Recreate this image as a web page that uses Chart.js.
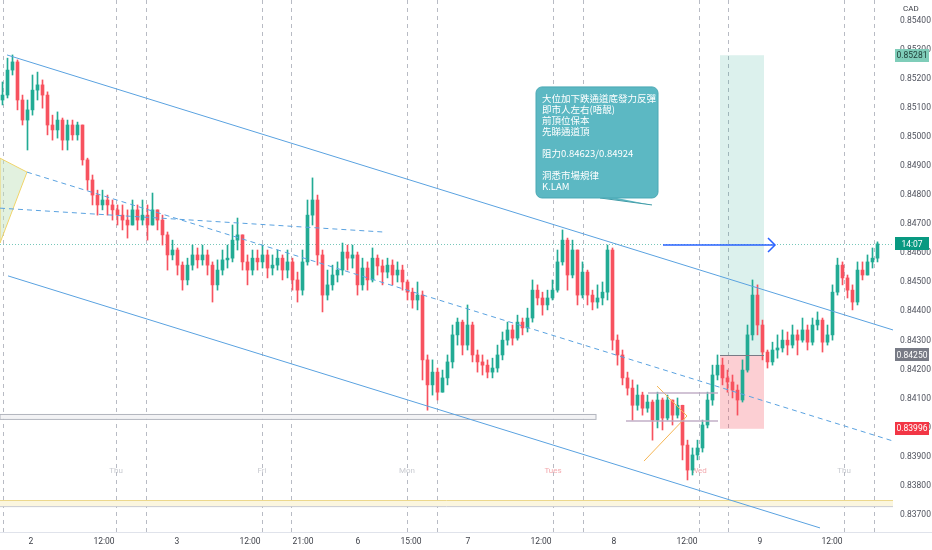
<!DOCTYPE html>
<html lang="zh-Hant">
<head>
  <meta charset="UTF-8">
  <title>CAD 30分鐘走勢</title>
  <script src="https://cdn.jsdelivr.net/npm/chart.js"></script>
  <style>
    html, body { margin: 0; padding: 0; background: #fff; }
    #wrap { width: 932px; height: 550px; position: relative; }
  </style>
</head>
<body>
  <div id="wrap"><canvas id="chart"></canvas></div>

  <script>
    // K線 (開 = 上一根收市)
    const firstOpen = 0.85127;
    const closes = [
      0.85144, 0.85230, 0.85258, 0.85127, 0.85058, 0.85093, 0.85161, 0.85179, 0.85144, 0.85041,
      0.85024, 0.85058, 0.84989, 0.85041, 0.85007, 0.85041, 0.84921, 0.84852, 0.84800, 0.84766,
      0.84783, 0.84766, 0.84749, 0.84731, 0.84714, 0.84697, 0.84749, 0.84714, 0.84731, 0.84697,
      0.84749, 0.84714, 0.84663, 0.84594, 0.84611, 0.84559, 0.84508, 0.84559, 0.84594, 0.84577,
      0.84594, 0.84559, 0.84491, 0.84542, 0.84577, 0.84583, 0.84645, 0.84663, 0.84570, 0.84542,
      0.84583, 0.84570, 0.84594, 0.84549, 0.84559, 0.84583, 0.84542, 0.84570, 0.84508, 0.84473,
      0.84570, 0.84731, 0.84783, 0.84594, 0.84456, 0.84491, 0.84525, 0.84542, 0.84604, 0.84583,
      0.84594, 0.84491, 0.84549, 0.84508, 0.84583, 0.84556, 0.84535, 0.84559, 0.84525, 0.84542,
      0.84501, 0.84466, 0.84439, 0.84456, 0.84233, 0.84147, 0.84191, 0.84122, 0.84171, 0.84226,
      0.84319, 0.84363, 0.84284, 0.84353, 0.84250, 0.84226, 0.84215, 0.84191, 0.84205, 0.84250,
      0.84301, 0.84336, 0.84308, 0.84363, 0.84343, 0.84377, 0.84473, 0.84446, 0.84422, 0.84446,
      0.84473, 0.84570, 0.84645, 0.84525, 0.84611, 0.84456, 0.84535, 0.84456, 0.84432, 0.84446,
      0.84466, 0.84611, 0.84301, 0.84250, 0.84171, 0.84136, 0.84077, 0.84112, 0.84067, 0.84088,
      0.84026, 0.84095, 0.84033, 0.84095, 0.84043, 0.84077, 0.83940, 0.83854, 0.83906, 0.83930,
      0.84009, 0.84095, 0.84181, 0.84215, 0.84171, 0.84157, 0.84129, 0.84095, 0.84198, 0.84319,
      0.84456, 0.84353, 0.84260, 0.84226, 0.84267, 0.84274, 0.84301, 0.84284, 0.84319, 0.84301,
      0.84336, 0.84294, 0.84353, 0.84370, 0.84294, 0.84319, 0.84466, 0.84559, 0.84515, 0.84473,
      0.84432, 0.84542, 0.84525, 0.84570, 0.84583, 0.84632
    ];
    const highs = [
      0.85189, 0.85271, 0.85282, 0.85265, 0.85144, 0.85127, 0.85213, 0.85223, 0.85196, 0.85155,
      0.85075, 0.85086, 0.85065, 0.85058, 0.85058, 0.85051, 0.85041, 0.84927, 0.84869, 0.84817,
      0.84817, 0.84800, 0.84783, 0.84766, 0.84766, 0.84749, 0.84783, 0.84766, 0.84783, 0.84766,
      0.84807, 0.84749, 0.84731, 0.84673, 0.84645, 0.84618, 0.84570, 0.84583, 0.84628, 0.84618,
      0.84628, 0.84611, 0.84570, 0.84577, 0.84611, 0.84628, 0.84697, 0.84721, 0.84663, 0.84594,
      0.84611, 0.84611, 0.84628, 0.84611, 0.84594, 0.84611, 0.84594, 0.84611, 0.84583, 0.84535,
      0.84611, 0.84783, 0.84859, 0.84800, 0.84611, 0.84542, 0.84559, 0.84570, 0.84635, 0.84628,
      0.84628, 0.84604, 0.84583, 0.84570, 0.84618, 0.84594, 0.84577, 0.84583, 0.84577, 0.84570,
      0.84559, 0.84508, 0.84480, 0.84501, 0.84470, 0.84250, 0.84233, 0.84205, 0.84198, 0.84250,
      0.84353, 0.84377, 0.84370, 0.84422, 0.84363, 0.84267, 0.84250, 0.84233, 0.84239, 0.84284,
      0.84329, 0.84363, 0.84353, 0.84387, 0.84377, 0.84411, 0.84508, 0.84491, 0.84466, 0.84473,
      0.84508, 0.84611, 0.84680, 0.84652, 0.84645, 0.84611, 0.84570, 0.84542, 0.84473, 0.84491,
      0.84501, 0.84628, 0.84618, 0.84319, 0.84267, 0.84191, 0.84164, 0.84147, 0.84122, 0.84112,
      0.84095, 0.84122, 0.84102, 0.84112, 0.84095, 0.84102, 0.84077, 0.83957, 0.83930, 0.83957,
      0.84026, 0.84122, 0.84215, 0.84250, 0.84239, 0.84198, 0.84181, 0.84147, 0.84233, 0.84353,
      0.84508, 0.84491, 0.84370, 0.84267, 0.84294, 0.84319, 0.84336, 0.84329, 0.84353, 0.84336,
      0.84377, 0.84353, 0.84377, 0.84398, 0.84377, 0.84353, 0.84491, 0.84583, 0.84570, 0.84525,
      0.84491, 0.84570, 0.84570, 0.84594, 0.84618, 0.84639
    ];
    const lows = [
      0.85110, 0.85134, 0.85213, 0.85093, 0.85041, 0.84955, 0.85075, 0.85127, 0.85099, 0.85007,
      0.84989, 0.84996, 0.84955, 0.84955, 0.84989, 0.84989, 0.84903, 0.84817, 0.84766, 0.84731,
      0.84749, 0.84731, 0.84714, 0.84697, 0.84680, 0.84652, 0.84697, 0.84680, 0.84697, 0.84645,
      0.84697, 0.84680, 0.84628, 0.84542, 0.84577, 0.84525, 0.84473, 0.84491, 0.84542, 0.84549,
      0.84559, 0.84525, 0.84432, 0.84473, 0.84525, 0.84549, 0.84570, 0.84611, 0.84542, 0.84491,
      0.84525, 0.84542, 0.84549, 0.84515, 0.84525, 0.84542, 0.84508, 0.84515, 0.84473, 0.84432,
      0.84456, 0.84559, 0.84697, 0.84559, 0.84398, 0.84439, 0.84473, 0.84501, 0.84525, 0.84542,
      0.84549, 0.84456, 0.84473, 0.84473, 0.84501, 0.84525, 0.84491, 0.84515, 0.84491, 0.84501,
      0.84473, 0.84439, 0.84411, 0.84405, 0.84164, 0.84060, 0.84112, 0.84095, 0.84122, 0.84147,
      0.84205, 0.84284, 0.84250, 0.84267, 0.84226, 0.84191, 0.84181, 0.84171, 0.84171, 0.84191,
      0.84233, 0.84284, 0.84284, 0.84301, 0.84319, 0.84329, 0.84363, 0.84422, 0.84387, 0.84405,
      0.84439, 0.84466, 0.84559, 0.84473, 0.84515, 0.84422, 0.84446, 0.84422, 0.84405, 0.84411,
      0.84422, 0.84439, 0.84267, 0.84215, 0.84147, 0.84112, 0.84026, 0.84060, 0.84043, 0.84053,
      0.83957, 0.83999, 0.83992, 0.84026, 0.84009, 0.84033, 0.83889, 0.83820, 0.83837, 0.83889,
      0.83916, 0.83999, 0.84077, 0.84164, 0.84147, 0.84122, 0.84102, 0.84043, 0.84088, 0.84191,
      0.84301, 0.84319, 0.84233, 0.84205, 0.84215, 0.84239, 0.84260, 0.84250, 0.84274, 0.84250,
      0.84294, 0.84267, 0.84284, 0.84336, 0.84260, 0.84284, 0.84301, 0.84456, 0.84491, 0.84446,
      0.84405, 0.84422, 0.84508, 0.84525, 0.84549, 0.84570
    ];

    // 時間軸
    const tickPos = [5.7, 20.3, 34.9, 49.5, 60.1, 71.1, 81.7, 93.1, 107.7, 122.3, 136.9, 151.5, 165.9];
    const tickLabels = ['2', '12:00', '3', '12:00', '21:00', '6', '15:00', '7', '12:00', '8', '12:00', '9', '12:00'];
    const sessionLines = [0.1, 22.7, 28.7, 51.9, 57.7, 80.9, 86.9, 110.1, 116.1, 139.3, 145.1, 168.3, 174.3];
    const dayPos = [22.7, 51.9, 80.9, 110.1, 139.3, 168.3];
    const dayNames = ['Thu', 'Fri', 'Mon', 'Tues', 'Wed', 'Thu'];

    // 畫圖工具 (K線序號, 價位)
    const channelTop = [[0.9, 0.85282], [178.1, 0.84336]];
    const channelBottom = [[1.1, 0.84522], [163.5, 0.83655]];
    const channelMid = [[4.9, 0.84879], [178.1, 0.83954]];
    const trendDash = [[-0.5, 0.84755], [76.1, 0.84673]];
    const leftWedge = [[-0.5, 0.84927], [4.9, 0.84879], [-0.5, 0.84635]];
    const triangle = [[130.9, 0.84143], [136.9, 0.84040], [128.3, 0.83885]];
    const triLines = [[129.1, 143.1, 0.84119], [124.7, 143.1, 0.84023]];
    const supportBox = [-0.5, 118.7, 0.84047, 0.84030];
    const bottomBand = [-0.5, 178.1, 0.83751, 0.83730];
    const position = { from: 143.5, to: 152.3, target: 0.85281, entry: 0.84250, stop: 0.83996 };
    const arrow = [[132.1, 0.84628], [154.5, 0.84628]];
    const lastPrice = 0.84632;
    const note = { from: 106.7, to: 131.1, top: 0.85172, bottom: 0.84790, tip: [129.9, 0.84766] };
    const noteLines = ['大位加下跌通道底發力反彈', '即市人左右(唔靚)', '前頂位保本', '先睇通道頂', '',
                       '阻力0.84623/0.84924', '', '洞悉市場規律', 'K.LAM'];

    const UP = '#22ab94';
    const DOWN = '#f7525f';

    const opens = closes.map((c, i) => i === 0 ? firstOpen : closes[i - 1]);
    const colors = closes.map((c, i) => c >= opens[i] ? UP : DOWN);
    const bodies = closes.map((c, i) => ({ x: i, y: [opens[i], c] }));
    const wicks = closes.map((c, i) => ({ x: i, y: [lows[i], highs[i]] }));

    const font = 'Roboto, "Noto Sans CJK TC", sans-serif';
    Chart.defaults.font.family = font;

    function line(ctx, x, y, pts, color, dash, width) {
      ctx.beginPath();
      ctx.strokeStyle = color;
      ctx.lineWidth = width || 1;
      ctx.setLineDash(dash || []);
      ctx.moveTo(x.getPixelForValue(pts[0][0]), y.getPixelForValue(pts[0][1]));
      for (let k = 1; k < pts.length; k++) {
        ctx.lineTo(x.getPixelForValue(pts[k][0]), y.getPixelForValue(pts[k][1]));
      }
      ctx.stroke();
      ctx.setLineDash([]);
    }

    function rectOf(x, y, x0, x1, p0, p1) {
      const l = x.getPixelForValue(x0), r = x.getPixelForValue(x1);
      const t = y.getPixelForValue(p0), b = y.getPixelForValue(p1);
      return [l, t, r - l, b - t];
    }

    const drawings = {
      id: 'drawings',
      beforeDatasetsDraw(chart) {
        const { ctx, chartArea: a, scales: { x, y } } = chart;
        ctx.save();

        // 時段分隔線
        ctx.strokeStyle = '#b8bbc4';
        ctx.lineWidth = 1;
        ctx.setLineDash([4, 4]);
        sessionLines.forEach(v => {
          const X = Math.round(x.getPixelForValue(v)) + 0.5;
          ctx.beginPath(); ctx.moveTo(X, a.top); ctx.lineTo(X, a.bottom); ctx.stroke();
        });
        ctx.setLineDash([]);

        // 星期
        ctx.font = '8px ' + font;
        ctx.textAlign = 'center';
        ctx.textBaseline = 'middle';
        dayNames.forEach((d, k) => {
          ctx.fillStyle = (d === 'Tues' || d === 'Wed') ? '#f3a9ae' : '#c9cbd1';
          ctx.fillText(d, x.getPixelForValue(dayPos[k]), 471);
        });

        // 支持位框 / 底部帶
        let r = rectOf(x, y, supportBox[0], supportBox[1], supportBox[2], supportBox[3]);
        ctx.fillStyle = '#f3f3f5'; ctx.fillRect(...r);
        ctx.strokeStyle = '#b2b5be'; ctx.strokeRect(r[0], r[1] + 0.5, r[2], r[3]);
        r = rectOf(x, y, bottomBand[0], bottomBand[1], bottomBand[2], bottomBand[3]);
        ctx.fillStyle = '#fbf6df'; ctx.fillRect(...r);
        ctx.strokeStyle = '#ecd88c';
        ctx.beginPath(); ctx.moveTo(r[0], r[1] + 0.5); ctx.lineTo(r[0] + r[2], r[1] + 0.5); ctx.stroke();
        ctx.strokeStyle = '#c9cbd1';
        ctx.beginPath(); ctx.moveTo(r[0], r[1] + r[3] + 0.5); ctx.lineTo(r[0] + r[2], r[1] + r[3] + 0.5); ctx.stroke();

        // 左邊楔形
        ctx.beginPath();
        leftWedge.forEach((p, k) => {
          const X = x.getPixelForValue(p[0]), Y = y.getPixelForValue(p[1]);
          k ? ctx.lineTo(X, Y) : ctx.moveTo(X, Y);
        });
        ctx.closePath();
        ctx.fillStyle = 'rgba(190, 225, 185, 0.45)'; ctx.fill();
        ctx.strokeStyle = '#f0d46a'; ctx.stroke();

        // 持倉工具
        r = rectOf(x, y, position.from, position.to, position.target, position.entry);
        ctx.fillStyle = 'rgba(8, 153, 129, 0.14)'; ctx.fillRect(...r);
        r = rectOf(x, y, position.from, position.to, position.entry, position.stop);
        ctx.fillStyle = 'rgba(242, 54, 69, 0.24)'; ctx.fillRect(...r);

        // 現價虛線
        const ly = Math.round(y.getPixelForValue(lastPrice)) + 0.5;
        ctx.strokeStyle = 'rgba(8, 153, 129, 0.55)';
        ctx.setLineDash([1, 2]);
        ctx.beginPath(); ctx.moveTo(a.left, ly); ctx.lineTo(a.right, ly); ctx.stroke();
        ctx.setLineDash([]);
        ctx.restore();
      },
      afterDatasetsDraw(chart) {
        const { ctx, scales: { x, y } } = chart;
        ctx.save();
        ctx.beginPath();
        ctx.rect(chart.chartArea.left, chart.chartArea.top, chart.chartArea.width, chart.chartArea.height);
        ctx.clip();

        // 入場線
        const ey = Math.round(y.getPixelForValue(position.entry)) + 0.5;
        ctx.strokeStyle = '#787b86'; ctx.lineWidth = 1;
        ctx.beginPath(); ctx.moveTo(x.getPixelForValue(position.from), ey); ctx.lineTo(x.getPixelForValue(position.to), ey); ctx.stroke();

        // 通道
        line(ctx, x, y, channelTop, '#5aa2e0');
        line(ctx, x, y, channelBottom, '#5aa2e0');
        line(ctx, x, y, channelMid, '#5aa2e0', [5, 4]);
        line(ctx, x, y, trendDash, '#5aa2e0', [5, 4]);

        // 三角收窄
        line(ctx, x, y, triangle, '#f5b553');
        triLines.forEach(t => line(ctx, x, y, [[t[0], t[2]], [t[1], t[2]]], 'rgba(190, 170, 195, 0.7)', [], 2));

        // 箭咀
        line(ctx, x, y, arrow, '#2962ff', [], 1.5);
        const ax = x.getPixelForValue(arrow[1][0]), ay = y.getPixelForValue(arrow[1][1]);
        ctx.beginPath();
        ctx.moveTo(ax - 7, ay - 7); ctx.lineTo(ax, ay); ctx.lineTo(ax - 7, ay + 7);
        ctx.strokeStyle = '#2962ff'; ctx.lineWidth = 1.5; ctx.stroke();

        // 註解框
        const bl = x.getPixelForValue(note.from), br = x.getPixelForValue(note.to);
        const bt = y.getPixelForValue(note.top), bb = y.getPixelForValue(note.bottom);
        const tx = x.getPixelForValue(note.tip[0]), ty = y.getPixelForValue(note.tip[1]);
        ctx.fillStyle = '#5cb8c3';
        ctx.beginPath();
        ctx.moveTo(bl + 60, bb - 1); ctx.lineTo(tx, ty); ctx.lineTo(bl + 76, bb - 1);
        ctx.closePath(); ctx.fill();
        ctx.strokeStyle = '#3f9aa6'; ctx.lineWidth = 1;
        ctx.beginPath(); ctx.moveTo(bl + 64, bb); ctx.lineTo(tx, ty); ctx.stroke();
        ctx.beginPath();
        ctx.roundRect(bl, bt, br - bl, bb - bt, 6);
        ctx.fillStyle = '#5cb8c3'; ctx.fill();
        ctx.strokeStyle = '#4aa8b4'; ctx.stroke();
        ctx.fillStyle = '#ffffff';
        ctx.font = '9.5px "Noto Sans CJK TC", sans-serif';
        ctx.textAlign = 'left';
        ctx.textBaseline = 'middle';
        noteLines.forEach((t, k) => ctx.fillText(t, bl + 6, bt + 11 + k * 11));
        ctx.restore();
      },
      afterDraw(chart) {
        const { ctx, chartArea: a, scales: { y } } = chart;
        ctx.save();
        ctx.strokeStyle = '#e0e3eb';
        ctx.beginPath(); ctx.moveTo(0, a.bottom + 0.5); ctx.lineTo(chart.width, a.bottom + 0.5); ctx.stroke();

        ctx.fillStyle = '#3c3f47';
        ctx.font = '8px ' + font;
        ctx.textAlign = 'left';
        ctx.textBaseline = 'middle';
        ctx.fillText('CAD', a.right + 10, 9);

        const tags = [
          [position.target, '0.85281', '#7fcdb9', '#1d3b35'],
          [lastPrice, '14:07', '#089981', '#ffffff'],
          [position.entry, '0.84250', '#787b86', '#ffffff'],
          [position.stop, '0.83996', '#f23645', '#ffffff']
        ];
        ctx.textAlign = 'center';
        ctx.font = '8.5px ' + font;
        tags.forEach(([p, t, bg, fg]) => {
          const Y = y.getPixelForValue(p);
          ctx.fillStyle = bg;
          ctx.fillRect(a.right + 2, Math.round(Y - 6.5), 34, 13);
          ctx.fillStyle = fg;
          ctx.fillText(t, a.right + 19, Y + 0.5);
        });
        ctx.restore();
      }
    };

    new Chart(document.getElementById('chart'), {
      type: 'bar',
      data: {
        datasets: [
          { data: bodies, backgroundColor: colors, barThickness: 3, order: 1, grouped: false },
          { data: wicks, backgroundColor: colors, barThickness: 1, order: 2, grouped: false }
        ]
      },
      options: {
        responsive: true,
        maintainAspectRatio: false,
        animation: false,
        layout: { padding: 0 },
        plugins: { legend: { display: false }, tooltip: { enabled: false } },
        scales: {
          x: {
            type: 'linear',
            min: -0.5,
            max: 178.1,
            offset: false,
            grid: { display: false, drawTicks: false },
            border: { display: false },
            afterBuildTicks: s => { s.ticks = tickPos.map(v => ({ value: v })); },
            afterFit: s => { s.height = 18; s.paddingLeft = 0; s.paddingRight = 0; },
            ticks: {
              autoSkip: false,
              maxRotation: 0,
              padding: 5,
              color: '#3c3f47',
              font: { size: 8.5 },
              callback: (v, i) => tickLabels[i]
            }
          },
          y: {
            position: 'right',
            min: 0.83641,
            max: 0.85471,
            grid: { display: false, drawTicks: false },
            border: { display: false },
            afterFit: s => { s.width = 39; s.paddingTop = 0; s.paddingBottom = 0; },
            ticks: {
              stepSize: 0.001,
              includeBounds: false,
              padding: 7,
              color: '#50535e',
              font: { size: 8.5 },
              callback: v => v.toFixed(5)
            }
          }
        }
      },
      plugins: [drawings]
    });
  </script>
</body>
</html>
